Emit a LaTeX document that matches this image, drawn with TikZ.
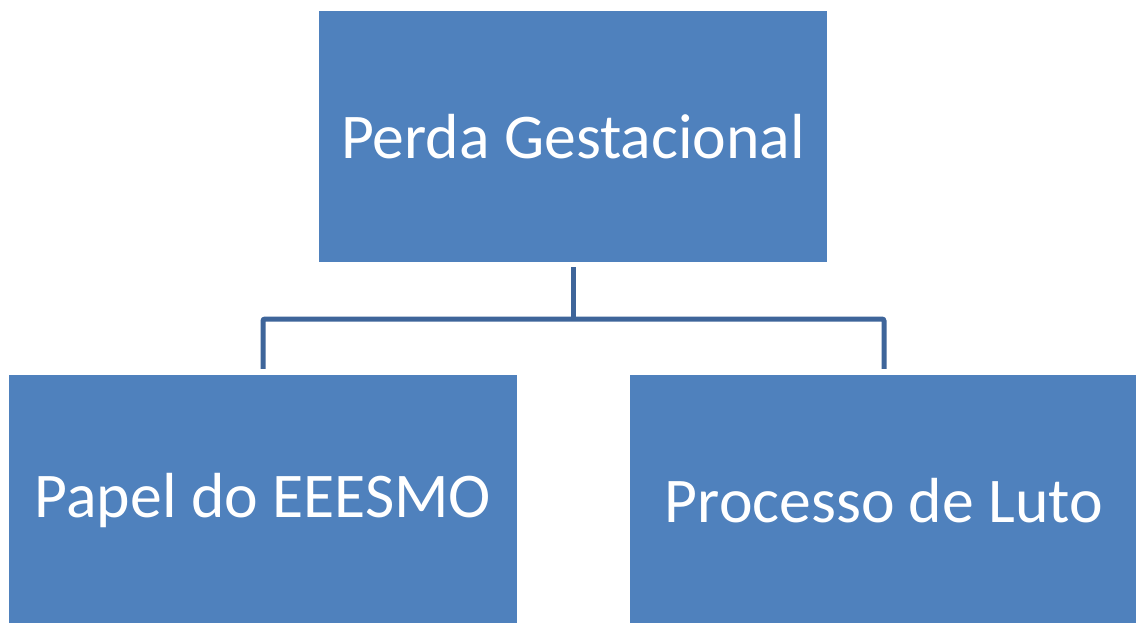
\documentclass[tikz,border=0pt]{standalone}
\usepackage{fontspec}
\setmainfont{Carlito}
\definecolor{boxblue}{HTML}{4F81BD}
\definecolor{lineblue}{HTML}{3E659A}
\begin{document}
\begin{tikzpicture}[x=1pt,y=-1pt,
  box/.style={fill=boxblue, draw=none, minimum width=508pt, minimum height=251pt,
    inner sep=0pt, text=white, font=\fontsize{63.7}{70}\selectfont},
  conn/.style={draw=lineblue, line width=5pt, rounded corners=2pt}]
\useasboundingbox (0,0) rectangle (1136,623);
\clip (0,0) rectangle (1136,623);
\fill[white] (0,0) rectangle (1136,623);
\node[box] (top) at (573,136.5) {Perda Gestacional};
\node[box] (left) at (263,500.5) {Papel do EEESMO};
\node[box] (right) at (884,500.5) {Processo de Luto};
\coordinate (mid) at (573,319);
\draw[conn, shorten <=5pt] (top.south) -- (mid);
\draw[conn, shorten <=6pt, shorten >=6pt] (left.north) |- (mid) -| (right.north);
\end{tikzpicture}
\end{document}
